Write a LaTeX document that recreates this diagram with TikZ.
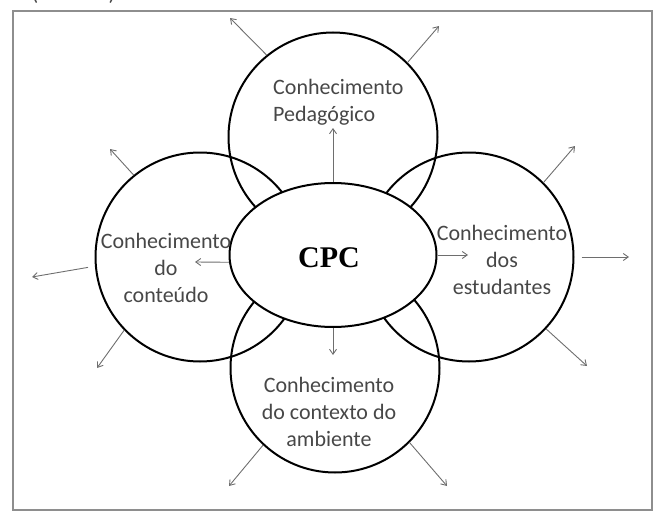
\documentclass[tikz,border=0pt]{standalone}
\usepackage{fontspec}
\setmainfont{Carlito}
\newfontfamily\cpcfont{Liberation Serif}
\usetikzlibrary{shapes.geometric,arrows.meta}
\definecolor{framegray}{HTML}{8E8E8E}
\definecolor{txtgray}{HTML}{474747}
\definecolor{arrgray}{HTML}{6E6E6E}
\begin{document}
\begin{tikzpicture}[x=1pt,y=-1pt,
  ring/.style={circle,draw=black,line width=2pt,minimum size=209pt,inner sep=0pt},
  core/.style={ellipse,draw=black,fill=white,line width=2pt,minimum width=207pt,minimum height=144pt,inner sep=0pt},
  lbl/.style={text=txtgray,font=\fontsize{22}{27}\selectfont,inner sep=0pt},
  arr/.style={draw=arrgray,line width=0.9pt,-{Straight Barb[length=5pt,width=7pt]}}
]
\useasboundingbox (0,0) rectangle (654,514);
\node[draw=framegray,line width=2.5pt,minimum width=639pt,minimum height=499pt,inner sep=0pt] (frame) at (332.5,260.5) {};
\node[lbl,anchor=base] (p1) at (35,1) {(};
\node[lbl,anchor=base] (p2) at (112,1) {)};
% circles
\node[ring] (top) at (333,137) {};
\node[ring] (left) at (200,257) {};
\node[ring] (right) at (469,257) {};
\node[ring] (bottom) at (335,368) {};
\node[core] (cpc) at (333,255) {};
\node[font=\cpcfont\bfseries\fontsize{30}{30}\selectfont,inner sep=0pt] (cpct) at (329,258) {CPC};
% texts
\node[lbl,align=left,anchor=west] (ttop) at (273,102) {Conhecimento\\Pedagógico};
\node[lbl,align=center] (tleft) at (166,268) {Conhecimento\\do\\conteúdo};
\node[lbl,align=center] (tright) at (502,260) {Conhecimento\\dos\\estudantes};
\node[lbl,align=center] (tbottom) at (329,412) {Conhecimento\\do contexto do\\ambiente};
% inner arrows
\coordinate (iu) at (333,128);
\coordinate (il) at (195,262);
\coordinate (ir) at (468,255);
\coordinate (id) at (333,355);
\draw[arr] (cpc.north) -- (iu);
\draw[arr] (cpc.184) -- (il);
\draw[arr] (cpc.east) -- (ir);
\draw[arr] (cpc.south) -- (id);
% outer arrows
\coordinate (tul) at (230,18);
\coordinate (tur) at (439,26);
\coordinate (lul) at (110,149);
\coordinate (ll) at (32,277);
\coordinate (lll) at (97,368);
\coordinate (rur) at (575,146);
\coordinate (rr) at (629,257);
\coordinate (rlr) at (587,366);
\coordinate (bll) at (229,486);
\coordinate (blr) at (447,486);
\draw[arr] (top.129) -- (tul);
\draw[arr] (top.45) -- (tur);
\draw[arr] (left.129) -- (lul);
\draw[arr,shorten <=7pt] (left.185) -- (ll);
\draw[arr] (left.224) -- (lll);
\draw[arr] (right.45) -- (rur);
\draw[arr,shorten <=7pt] (right.0) -- (rr);
\draw[arr] (right.-43) -- (rlr);
\draw[arr] (bottom.227) -- (bll);
\draw[arr] (bottom.-45) -- (blr);
\end{tikzpicture}
\end{document}
